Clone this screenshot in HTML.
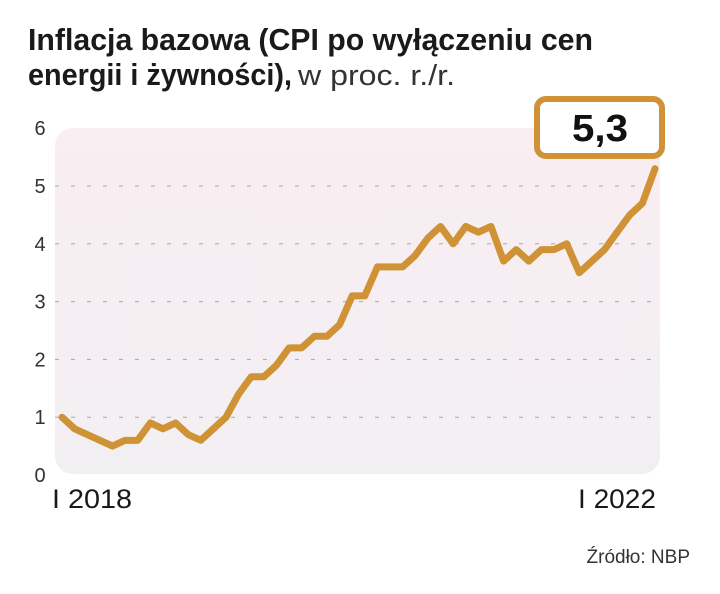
<!DOCTYPE html>
<html><head><meta charset="utf-8"><style>
html,body{margin:0;padding:0;background:#fff;}
svg{display:block;font-family:"Liberation Sans Narrow","Liberation Sans",sans-serif;}
</style></head><body>
<svg id="chart" width="720" height="594" viewBox="0 0 720 594">
<defs>
<linearGradient id="bg" x1="0" y1="0" x2="0" y2="1">
<stop offset="0" stop-color="#f9eef1"/><stop offset="1" stop-color="#f2eff2"/>
</linearGradient>
</defs>
<text x="28" y="50" font-size="31" font-weight="bold" fill="#1a1a1a" textLength="565" lengthAdjust="spacingAndGlyphs">Inflacja bazowa (CPI po wyłączeniu cen</text>
<text x="28" y="85" font-size="31" font-weight="bold" fill="#1a1a1a" textLength="264" lengthAdjust="spacingAndGlyphs">energii i żywności),</text>
<text x="298" y="85" font-size="29" fill="#333" textLength="157" lengthAdjust="spacingAndGlyphs">w proc. r./r.</text>
<rect x="55" y="128" width="605" height="346" rx="18" fill="url(#bg)"/>
<g id="grid"></g>
<g id="yticks"></g>
<polyline id="line" fill="none" stroke="#cf9234" stroke-width="7" stroke-linejoin="round" stroke-linecap="round"/>
<rect x="537" y="99" width="125" height="57" rx="9" fill="#fff" stroke="#cf9234" stroke-width="6"/>
<text x="600" y="141" font-size="38" font-weight="bold" text-anchor="middle" fill="#111" textLength="56" lengthAdjust="spacingAndGlyphs">5,3</text>
<text x="52" y="508" font-size="27" fill="#1a1a1a" textLength="80" lengthAdjust="spacingAndGlyphs">I 2018</text>
<text x="578" y="508" font-size="27" fill="#1a1a1a" textLength="78" lengthAdjust="spacingAndGlyphs">I 2022</text>
<text x="690" y="563" font-size="19" fill="#333" text-anchor="end">Źródło: NBP</text>
</svg>
<script>
const values = [1.0,0.8,0.7,0.6,0.5,0.6,0.6,0.9,0.8,0.9,0.7,0.6,
0.8,1.0,1.4,1.7,1.7,1.9,2.2,2.2,2.4,2.4,2.6,3.1,
3.1,3.6,3.6,3.6,3.8,4.1,4.3,4.0,4.3,4.2,4.3,3.7,
3.9,3.7,3.9,3.9,4.0,3.5,3.7,3.9,4.2,4.5,4.7,5.3];
const yTicks = [0,1,2,3,4,5,6];
const x0=62, x1=655, yBase=475, yUnit=57.8;
const xs = i => x0 + i*(x1-x0)/(values.length-1);
const ys = v => yBase - v*yUnit;
const NS='http://www.w3.org/2000/svg';
const grid=document.getElementById('grid'), yt=document.getElementById('yticks');
yTicks.forEach(t=>{
  if(t>0 && t<6){
    const l=document.createElementNS(NS,'line');
    
    
    l.setAttribute('x1',55);l.setAttribute('x2',656);
    l.setAttribute('y1',ys(t));l.setAttribute('y2',ys(t));
    l.setAttribute('stroke','#a9a9a9');l.setAttribute('stroke-width','1');
    l.setAttribute('stroke-dasharray','4 12');
    grid.appendChild(l);
  }
  const tx=document.createElementNS(NS,'text');
  
  
  tx.setAttribute('x',40);tx.setAttribute('y',ys(t)+7);
  tx.setAttribute('font-size','20');tx.setAttribute('text-anchor','middle');
  tx.setAttribute('fill','#333');
  tx.textContent=t;
  yt.appendChild(tx);
});
document.getElementById('line').setAttribute('points',values.map((v,i)=>xs(i)+','+ys(v)).join(' '));
</script>
</body></html>
